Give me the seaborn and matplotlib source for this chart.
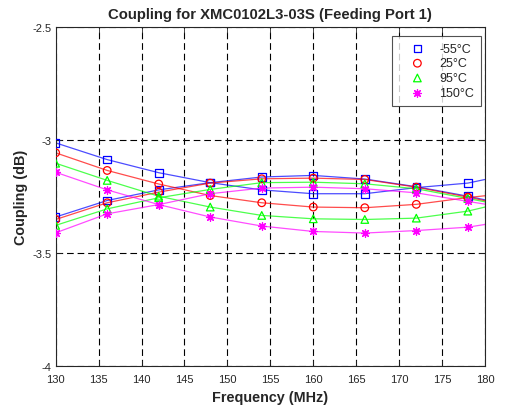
import matplotlib
matplotlib.use("Agg")
import matplotlib.pyplot as plt
import seaborn as sns
import numpy as np
import pandas as pd

# measured points (MHz)
freq = [130, 136, 142, 148, 154, 160, 166, 172, 178]
# line ends at 180 MHz
freq_end = 180

temps = ['-55°C', '25°C', '95°C', '150°C']

# first family (falling with frequency)
fall_m55 = [-3.014, -3.088, -3.146, -3.190, -3.222, -3.239, -3.239, -3.212, -3.192]
fall_25 = [-3.058, -3.136, -3.196, -3.247, -3.279, -3.298, -3.301, -3.286, -3.256]
fall_95 = [-3.104, -3.180, -3.250, -3.298, -3.335, -3.350, -3.353, -3.347, -3.316]
fall_150 = [-3.144, -3.222, -3.287, -3.342, -3.382, -3.406, -3.413, -3.402, -3.387]
fall_end = [-3.176, -3.248, -3.298, -3.375]

# second family (rising then falling)
rise_m55 = [-3.342, -3.269, -3.222, -3.190, -3.165, -3.158, -3.174, -3.208, -3.250]
rise_25 = [-3.353, -3.279, -3.232, -3.192, -3.173, -3.170, -3.176, -3.210, -3.254]
rise_95 = [-3.379, -3.306, -3.257, -3.220, -3.190, -3.188, -3.195, -3.217, -3.260]
rise_150 = [-3.412, -3.328, -3.287, -3.239, -3.214, -3.210, -3.217, -3.235, -3.273]
rise_end = [-3.266, -3.270, -3.275, -3.285]

colors = ['#0000ff', '#ff0000', '#00ff00', '#ff00ff']
markers = ['s', 'o', '^', (8, 2, 0)]

sns.set_style("white")
plt.rcParams['font.family'] = ['Liberation Sans', 'DejaVu Sans']

fig = plt.figure(figsize=(5.06, 4.10), dpi=100)
ax = fig.add_axes([0.110, 0.1056, 0.8485, 0.8268])

falls = [fall_m55, fall_25, fall_95, fall_150]
rises = [rise_m55, rise_25, rise_95, rise_150]

rows = []
for t, f, r, fe, re in zip(temps, falls, rises, fall_end, rise_end):
    for x, y in zip(freq + [freq_end], f + [fe]):
        rows.append({'freq': x, 'coupling': y, 'temp': t, 'set': 'fall'})
    for x, y in zip(freq + [freq_end], r + [re]):
        rows.append({'freq': x, 'coupling': y, 'temp': t, 'set': 'rise'})
df = pd.DataFrame(rows)

# lines
for i, t in enumerate(temps):
    for s in ['fall', 'rise']:
        d = df[(df.temp == t) & (df.set == s)]
        sns.lineplot(data=d, x='freq', y='coupling', ax=ax, color=colors[i],
                     linewidth=0.9, alpha=0.7, sort=False, legend=False,
                     estimator=None)

# markers at measured points
pts = df[df.freq != freq_end]
for i, t in enumerate(temps):
    d = pts[pts.temp == t]
    ax.scatter(d.freq, d.coupling, marker=markers[i],
               facecolors='none' if i < 3 else colors[i],
               edgecolors=colors[i], s=30, linewidths=0.9, zorder=3,
               label=t)

ax.set_xlim(130, 180)
ax.set_ylim(-4, -2.5)
ax.set_xticks(np.arange(130, 181, 5))
ax.set_yticks([-4, -3.5, -3, -2.5])
ax.set_yticklabels(['-4', '-3.5', '-3', '-2.5'])

ax.grid(True, color='black', linewidth=0.8, linestyle=(0, (6, 3.5)))
ax.set_axisbelow(True)
for sp in ax.spines.values():
    sp.set_visible(True)
    sp.set_color('#262626')
    sp.set_linewidth(0.8)
ax.tick_params(direction='in', length=4, width=0.6, colors='#262626',
               labelsize=8, top=True, right=True, bottom=True, left=True,
               labelcolor='#262626', pad=3)
ax.tick_params(axis='x', pad=6)

ax.set_title('Coupling for XMC0102L3-03S (Feeding Port 1)', fontsize=10.7,
             fontweight='bold', pad=6)
ax.set_xlabel('Frequency (MHz)', fontsize=10.4, fontweight='bold', labelpad=4)
ax.set_ylabel('Coupling (dB)', fontsize=10.4, fontweight='bold', labelpad=3)

leg = ax.legend(loc='upper right', bbox_to_anchor=(0.9907, 0.973),
                borderaxespad=0, fontsize=9, frameon=True, fancybox=False,
                edgecolor='#262626', handletextpad=0.3, borderpad=0.55,
                labelspacing=0.22, handlelength=2.9)
leg.get_frame().set_linewidth(0.8)

fig.savefig('out.png', dpi=100)
